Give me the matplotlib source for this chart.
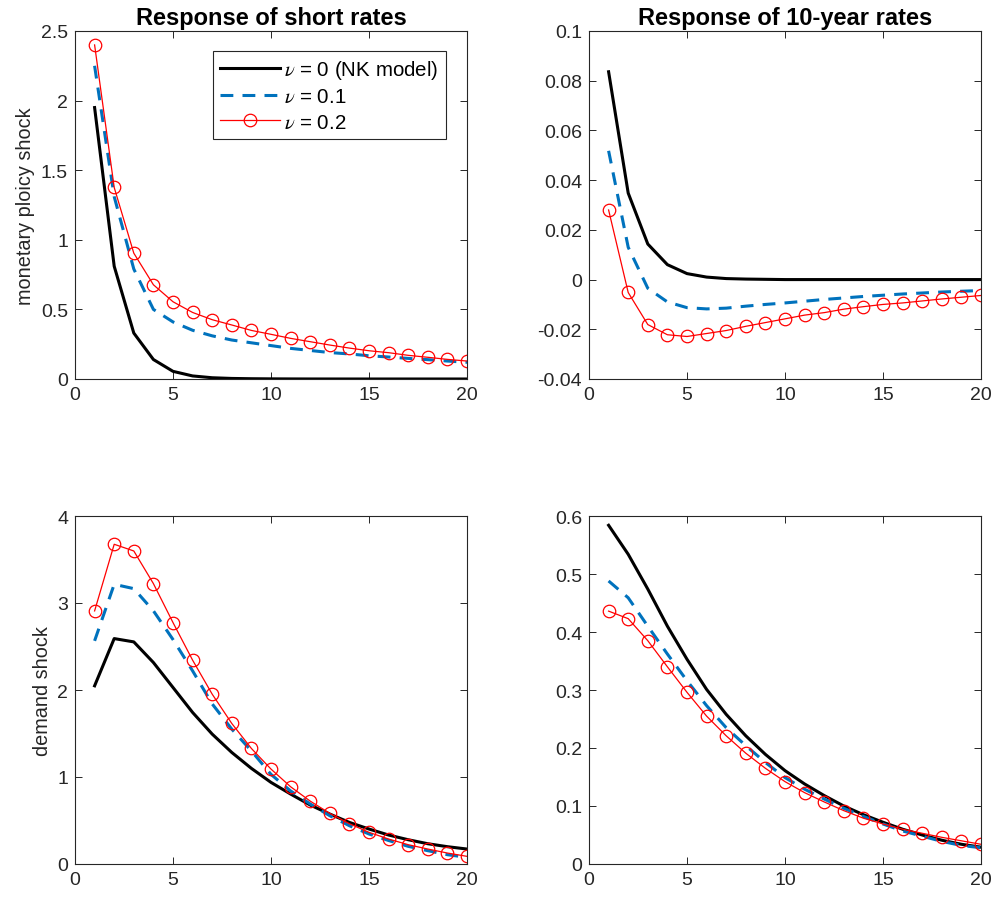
import matplotlib
matplotlib.use("Agg")
import matplotlib.pyplot as plt
from matplotlib.ticker import FixedLocator

plt.rcParams['font.family'] = ['Liberation Sans', 'DejaVu Sans']
plt.rcParams['mathtext.fontset'] = 'stix'

horizon = list(range(1, 21))

# Monetary policy shock: short rates
mp_short_nu0 = [1.95, 0.81, 0.33, 0.14, 0.055, 0.022, 0.009, 0.004, 0.002, 0.001,
                0.0005, 0.0002, 0.0001, 0.0, 0.0, 0.0, 0.0, 0.0, 0.0, 0.0]
mp_short_nu01 = [2.25, 1.31, 0.79, 0.50, 0.41, 0.35, 0.31, 0.28, 0.26, 0.24,
                 0.22, 0.205, 0.19, 0.18, 0.167, 0.158, 0.148, 0.139, 0.129, 0.12]
mp_short_nu02 = [2.40, 1.376, 0.904, 0.677, 0.555, 0.478, 0.426, 0.388, 0.349, 0.321,
                 0.292, 0.268, 0.244, 0.222, 0.203, 0.189, 0.170, 0.156, 0.141, 0.129]

# Monetary policy shock: 10-year rates
mp_long_nu0 = [0.0836, 0.0348, 0.0143, 0.006, 0.0024, 0.001, 0.0004, 0.0002, 0.0001, 0.0,
               0.0, 0.0, 0.0, 0.0, 0.0, 0.0, 0.0, 0.0, 0.0, 0.0]
mp_long_nu01 = [0.0518, 0.013, -0.0035, -0.009, -0.0113, -0.0118, -0.0115, -0.0107, -0.010, -0.0094,
                -0.0087, -0.008, -0.0074, -0.0068, -0.0063, -0.0058, -0.0054, -0.005, -0.0047, -0.0044]
mp_long_nu02 = [0.028, -0.0052, -0.0181, -0.0222, -0.0229, -0.0217, -0.0205, -0.0188, -0.0173, -0.0158,
                -0.0143, -0.0133, -0.0119, -0.0109, -0.0100, -0.0094, -0.0086, -0.0078, -0.0071, -0.0064]

# Demand shock: short rates
dm_short_nu0 = [2.048, 2.591, 2.553, 2.316, 2.029, 1.742, 1.493, 1.282, 1.099, 0.938,
                0.804, 0.678, 0.574, 0.478, 0.402, 0.333, 0.279, 0.233, 0.199, 0.172]
dm_short_nu01 = [2.565, 3.215, 3.165, 2.91, 2.58, 2.22, 1.84, 1.55, 1.30, 1.03,
                 0.84, 0.69, 0.555, 0.44, 0.345, 0.27, 0.203, 0.153, 0.107, 0.077]
dm_short_nu02 = [2.909, 3.675, 3.598, 3.223, 2.775, 2.343, 1.952, 1.615, 1.328, 1.091,
                 0.888, 0.723, 0.582, 0.463, 0.364, 0.287, 0.222, 0.172, 0.126, 0.088]

# Demand shock: 10-year rates
dm_long_nu0 = [0.584, 0.534, 0.474, 0.410, 0.353, 0.301, 0.258, 0.221, 0.189, 0.161,
               0.138, 0.118, 0.100, 0.085, 0.072, 0.060, 0.050, 0.041, 0.034, 0.029]
dm_long_nu01 = [0.488, 0.459, 0.410, 0.362, 0.316, 0.273, 0.235, 0.204, 0.175, 0.149,
                0.129, 0.112, 0.096, 0.082, 0.069, 0.057, 0.048, 0.039, 0.032, 0.028]
dm_long_nu02 = [0.436, 0.423, 0.385, 0.340, 0.296, 0.255, 0.221, 0.191, 0.165, 0.142,
                0.123, 0.107, 0.092, 0.079, 0.069, 0.060, 0.053, 0.046, 0.040, 0.034]

legend_labels = [r'$\nu$ = 0 (NK model)', r'$\nu$ = 0.1', r'$\nu$ = 0.2']
titles = ['Response of short rates', 'Response of 10-year rates']
ylabels = ['monetary ploicy shock', 'demand shock']
xticks = [0, 5, 10, 15, 20]
yticks = [
    [0, 0.5, 1, 1.5, 2, 2.5],
    [-0.04, -0.02, 0, 0.02, 0.04, 0.06, 0.08, 0.1],
    [0, 1, 2, 3, 4],
    [0, 0.1, 0.2, 0.3, 0.4, 0.5, 0.6],
]
yticklabels = [
    ['0', '0.5', '1', '1.5', '2', '2.5'],
    ['-0.04', '-0.02', '0', '0.02', '0.04', '0.06', '0.08', '0.1'],
    ['0', '1', '2', '3', '4'],
    ['0', '0.1', '0.2', '0.3', '0.4', '0.5', '0.6'],
]

panels = [
    (mp_short_nu0, mp_short_nu01, mp_short_nu02),
    (mp_long_nu0, mp_long_nu01, mp_long_nu02),
    (dm_short_nu0, dm_short_nu01, dm_short_nu02),
    (dm_long_nu0, dm_long_nu01, dm_long_nu02),
]

W, H = 996, 903
fig = plt.figure(figsize=(W / 100, H / 100), dpi=100)
lefts = [75 / W, 589 / W]
bottoms = [1 - 380 / H, 1 - 865 / H]
aw = 392 / W
ah = 348 / H

axcol = '#262626'
blue = '#0072BD'

for i, (s0, s1, s2) in enumerate(panels):
    r, c = divmod(i, 2)
    ax = fig.add_axes([lefts[c], bottoms[r], aw, ah])
    l0, = ax.plot(horizon, s0, color='black', lw=2.2, solid_joinstyle='round')
    l1, = ax.plot(horizon, s1, color=blue, lw=2.2, dashes=(4.2, 3.0))
    l2, = ax.plot(horizon, s2, color='red', lw=0.9, marker='o', markersize=9,
                  markerfacecolor='none', markeredgecolor='red', markeredgewidth=0.9)
    ax.set_xlim(0, 20)
    ax.set_ylim(yticks[i][0], yticks[i][-1])
    ax.xaxis.set_major_locator(FixedLocator(xticks))
    ax.set_xticklabels([str(x) for x in xticks])
    ax.set_yticks(yticks[i])
    ax.set_yticklabels(yticklabels[i])
    ax.tick_params(direction='in', top=True, right=True, length=5, width=0.7,
                   colors=axcol, labelsize=14, pad=5)
    for sp in ax.spines.values():
        sp.set_color(axcol)
        sp.set_linewidth(0.8)
    if r == 0:
        ax.set_title(titles[c], fontsize=17, fontweight='bold', pad=5)
    if c == 0:
        ax.set_ylabel(ylabels[r], fontsize=14.3, color=axcol, labelpad=4)
    if i == 0:
        leg = ax.legend([l0, l1, l2], legend_labels, loc='upper right',
                        bbox_to_anchor=(0.946, 0.9425), fontsize=14.8, frameon=True,
                        fancybox=False, framealpha=1, edgecolor=axcol,
                        handlelength=2.9, handletextpad=0.2, borderpad=0.35,
                        labelspacing=0.3, borderaxespad=0)
        leg.get_frame().set_linewidth(0.8)

fig.savefig('out.png', dpi=100)
